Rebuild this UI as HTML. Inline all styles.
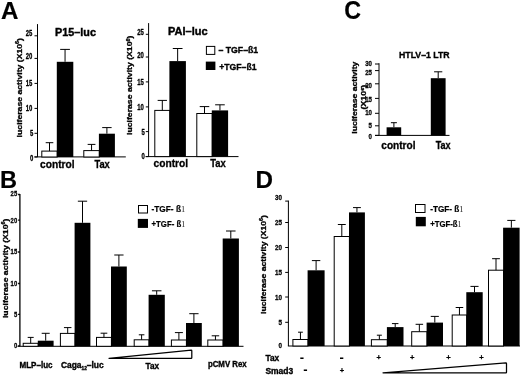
<!DOCTYPE html>
<html lang="en"><head><meta charset="utf-8"><title>Figure</title>
<style>
html,body{margin:0;padding:0;background:#fff;}
body{width:520px;height:375px;overflow:hidden;}
svg{display:block;font-family:'Liberation Sans', sans-serif;fill:#000;}
</style></head><body>
<svg width="520" height="375" viewBox="0 0 520 375">
<rect width="520" height="375" fill="#fff"/>
<g style="filter:blur(0.35px)">
<text x="0.9" y="18.5" font-size="24.2" textLength="17.4" lengthAdjust="spacingAndGlyphs" font-weight="bold" stroke="#000" stroke-width="0.2">A</text>
<path d="M37.5 24.1L37.5 157" stroke="#000" stroke-width="1.0" fill="none"/>
<path d="M34.5 35.8L37.5 35.8" stroke="#000" stroke-width="1.0" fill="none"/>
<text x="32.3" y="36.46" font-size="8.3" text-anchor="end" textLength="6.6" lengthAdjust="spacingAndGlyphs" font-weight="bold" stroke="#000" stroke-width="0.3">25</text>
<path d="M34.5 58.4L37.5 58.4" stroke="#000" stroke-width="1.0" fill="none"/>
<text x="32.3" y="59.26" font-size="8.3" text-anchor="end" textLength="6.6" lengthAdjust="spacingAndGlyphs" font-weight="bold" stroke="#000" stroke-width="0.3">20</text>
<path d="M34.5 83.4L37.5 83.4" stroke="#000" stroke-width="1.0" fill="none"/>
<text x="32.3" y="85.96" font-size="8.3" text-anchor="end" textLength="6.6" lengthAdjust="spacingAndGlyphs" font-weight="bold" stroke="#000" stroke-width="0.3">15</text>
<path d="M34.5 108.4L37.5 108.4" stroke="#000" stroke-width="1.0" fill="none"/>
<text x="32.3" y="111.16" font-size="8.3" text-anchor="end" textLength="6.6" lengthAdjust="spacingAndGlyphs" font-weight="bold" stroke="#000" stroke-width="0.3">10</text>
<path d="M34.5 133.3L37.5 133.3" stroke="#000" stroke-width="1.0" fill="none"/>
<text x="33.3" y="136.26" font-size="8.3" text-anchor="end" textLength="3.3" lengthAdjust="spacingAndGlyphs" font-weight="bold" stroke="#000" stroke-width="0.3">5</text>
<path d="M34.5 157L37.5 157" stroke="#000" stroke-width="1.0" fill="none"/>
<text x="33.3" y="160.66" font-size="8.3" text-anchor="end" textLength="3.3" lengthAdjust="spacingAndGlyphs" font-weight="bold" stroke="#000" stroke-width="0.3">0</text>
<path d="M34.4 156.9L125.8 156.9" stroke="#000" stroke-width="1.0" fill="none"/>
<rect x="41.8" y="151.1" width="15.400000000000006" height="5.900000000000006" fill="#fff" stroke="#000" stroke-width="1.0"/>
<path d="M49.5 151.1L49.5 142.7" stroke="#000" stroke-width="1.0" fill="none"/>
<path d="M45.7 142.7L53.3 142.7" stroke="#000" stroke-width="1.0" fill="none"/>
<rect x="56.800000000000004" y="61.8" width="16.500000000000004" height="95.2" fill="#000"/>
<path d="M65.05000000000001 61.8L65.05000000000001 49.4" stroke="#000" stroke-width="1.0" fill="none"/>
<path d="M60.18300000000001 49.4L69.91700000000002 49.4" stroke="#000" stroke-width="1.0" fill="none"/>
<rect x="83.8" y="150.6" width="15.5" height="6.400000000000006" fill="#fff" stroke="#000" stroke-width="1.0"/>
<path d="M91.55 150.6L91.55 144.4" stroke="#000" stroke-width="1.0" fill="none"/>
<path d="M87.64999999999999 144.4L95.45 144.4" stroke="#000" stroke-width="1.0" fill="none"/>
<rect x="98.89999999999999" y="133.7" width="16.000000000000004" height="23.30000000000001" fill="#000"/>
<path d="M106.9 133.7L106.9 127.6" stroke="#000" stroke-width="1.0" fill="none"/>
<path d="M102.188 127.6L111.61200000000001 127.6" stroke="#000" stroke-width="1.0" fill="none"/>
<text x="57.3" y="168" font-size="10.2" text-anchor="middle" textLength="34.6" lengthAdjust="spacingAndGlyphs" font-weight="bold" stroke="#000" stroke-width="0.3">control</text>
<text x="102.1" y="168" font-size="10.2" text-anchor="middle" textLength="15.4" lengthAdjust="spacingAndGlyphs" font-weight="bold" stroke="#000" stroke-width="0.3">Tax</text>
<text x="75.5" y="35.6" font-size="11.8" text-anchor="middle" textLength="40.8" lengthAdjust="spacingAndGlyphs" font-weight="bold" stroke="#000" stroke-width="0.45">P15–luc</text>
<text transform="translate(22 87.7) rotate(-90)" font-size="7.9" text-anchor="middle" textLength="99.4" lengthAdjust="spacingAndGlyphs" font-weight="bold" stroke="#000" stroke-width="0.3">luciferase activity (X10<tspan font-size="5" dy="-2.8">6</tspan><tspan dy="2.8">)</tspan></text>
<path d="M148.6 23.1L148.6 156.6" stroke="#000" stroke-width="1.0" fill="none"/>
<path d="M145.79999999999998 34.3L148.6 34.3" stroke="#000" stroke-width="1.0" fill="none"/>
<text x="143.8" y="34.86" font-size="8.3" text-anchor="end" textLength="6.6" lengthAdjust="spacingAndGlyphs" font-weight="bold" stroke="#000" stroke-width="0.3">25</text>
<path d="M145.79999999999998 57L148.6 57" stroke="#000" stroke-width="1.0" fill="none"/>
<text x="143.8" y="58.26" font-size="8.3" text-anchor="end" textLength="6.6" lengthAdjust="spacingAndGlyphs" font-weight="bold" stroke="#000" stroke-width="0.3">20</text>
<path d="M145.79999999999998 81.9L148.6 81.9" stroke="#000" stroke-width="1.0" fill="none"/>
<text x="143.8" y="84.66" font-size="8.3" text-anchor="end" textLength="6.6" lengthAdjust="spacingAndGlyphs" font-weight="bold" stroke="#000" stroke-width="0.3">15</text>
<path d="M145.79999999999998 106.9L148.6 106.9" stroke="#000" stroke-width="1.0" fill="none"/>
<text x="143.8" y="109.76" font-size="8.3" text-anchor="end" textLength="6.6" lengthAdjust="spacingAndGlyphs" font-weight="bold" stroke="#000" stroke-width="0.3">10</text>
<path d="M145.79999999999998 131.6L148.6 131.6" stroke="#000" stroke-width="1.0" fill="none"/>
<text x="144.8" y="134.76" font-size="8.3" text-anchor="end" textLength="3.3" lengthAdjust="spacingAndGlyphs" font-weight="bold" stroke="#000" stroke-width="0.3">5</text>
<path d="M145.79999999999998 156.6L148.6 156.6" stroke="#000" stroke-width="1.0" fill="none"/>
<text x="144.8" y="159.06" font-size="8.3" text-anchor="end" textLength="3.3" lengthAdjust="spacingAndGlyphs" font-weight="bold" stroke="#000" stroke-width="0.3">0</text>
<path d="M145.6 156.6L238.5 156.6" stroke="#000" stroke-width="1.0" fill="none"/>
<rect x="154.8" y="110.4" width="15.0" height="46.19999999999999" fill="#fff" stroke="#000" stroke-width="1.0"/>
<path d="M162.3 110.4L162.3 100.4" stroke="#000" stroke-width="1.0" fill="none"/>
<path d="M157.65 100.4L166.95000000000002 100.4" stroke="#000" stroke-width="1.0" fill="none"/>
<rect x="169.4" y="61.1" width="16.49999999999999" height="95.5" fill="#000"/>
<path d="M177.65 61.1L177.65 48.5" stroke="#000" stroke-width="1.0" fill="none"/>
<path d="M172.78300000000002 48.5L182.517 48.5" stroke="#000" stroke-width="1.0" fill="none"/>
<rect x="196.8" y="113.5" width="15.399999999999977" height="43.099999999999994" fill="#fff" stroke="#000" stroke-width="1.0"/>
<path d="M204.5 113.5L204.5 106.6" stroke="#000" stroke-width="1.0" fill="none"/>
<path d="M199.726 106.6L209.274 106.6" stroke="#000" stroke-width="1.0" fill="none"/>
<rect x="211.79999999999998" y="110.4" width="16.3" height="46.19999999999999" fill="#000"/>
<path d="M219.95 110.4L219.95 104.8" stroke="#000" stroke-width="1.0" fill="none"/>
<path d="M215.14499999999998 104.8L224.755 104.8" stroke="#000" stroke-width="1.0" fill="none"/>
<text x="170.8" y="167" font-size="10.3" text-anchor="middle" textLength="34.6" lengthAdjust="spacingAndGlyphs" font-weight="bold" stroke="#000" stroke-width="0.3">control</text>
<text x="218" y="167" font-size="10.3" text-anchor="middle" textLength="15.5" lengthAdjust="spacingAndGlyphs" font-weight="bold" stroke="#000" stroke-width="0.3">Tax</text>
<text x="187.8" y="34.8" font-size="11.8" text-anchor="middle" textLength="39.5" lengthAdjust="spacingAndGlyphs" font-weight="bold" stroke="#000" stroke-width="0.45">PAI–luc</text>
<text transform="translate(132.4 85.3) rotate(-90)" font-size="7.9" text-anchor="middle" textLength="99.4" lengthAdjust="spacingAndGlyphs" font-weight="bold" stroke="#000" stroke-width="0.3">luciferase activity (X10<tspan font-size="5" dy="-2.8">6</tspan><tspan dy="2.8">)</tspan></text>
<rect x="206.4" y="46.4" width="8.4" height="8" fill="#fff" stroke="#000" stroke-width="1"/>
<rect x="205.8" y="61.6" width="9.6" height="8.4" fill="#000"/>
<text x="218.4" y="53.2" font-size="9.8" textLength="39.8" lengthAdjust="spacingAndGlyphs" font-weight="bold" stroke="#000" stroke-width="0.35">– TGF–ß1</text>
<text x="219.2" y="69.9" font-size="9.8" textLength="37.4" lengthAdjust="spacingAndGlyphs" font-weight="bold" stroke="#000" stroke-width="0.35">+TGF–ß1</text>
<text x="344.2" y="19" font-size="26" textLength="16.8" lengthAdjust="spacingAndGlyphs" font-weight="bold" stroke="#000" stroke-width="0.2">C</text>
<path d="M379 63.2L379 135.4" stroke="#000" stroke-width="1.0" fill="none"/>
<path d="M375 64L379 64" stroke="#000" stroke-width="1.0" fill="none"/>
<text x="372.0" y="66.34" font-size="7.8" text-anchor="end" textLength="6.8" lengthAdjust="spacingAndGlyphs" font-weight="bold" stroke="#000" stroke-width="0.3">30</text>
<path d="M375 70.6L379 70.6" stroke="#000" stroke-width="1.0" fill="none"/>
<text x="372.0" y="74.64" font-size="7.8" text-anchor="end" textLength="6.8" lengthAdjust="spacingAndGlyphs" font-weight="bold" stroke="#000" stroke-width="0.3">25</text>
<path d="M375 83.8L379 83.8" stroke="#000" stroke-width="1.0" fill="none"/>
<text x="372.0" y="88.04" font-size="7.8" text-anchor="end" textLength="6.8" lengthAdjust="spacingAndGlyphs" font-weight="bold" stroke="#000" stroke-width="0.3">20</text>
<path d="M375 98.4L379 98.4" stroke="#000" stroke-width="1.0" fill="none"/>
<text x="372.0" y="101.74" font-size="7.8" text-anchor="end" textLength="6.8" lengthAdjust="spacingAndGlyphs" font-weight="bold" stroke="#000" stroke-width="0.3">15</text>
<path d="M375 113.3L379 113.3" stroke="#000" stroke-width="1.0" fill="none"/>
<text x="372.0" y="114.94" font-size="7.8" text-anchor="end" textLength="6.8" lengthAdjust="spacingAndGlyphs" font-weight="bold" stroke="#000" stroke-width="0.3">10</text>
<path d="M375 125.8L379 125.8" stroke="#000" stroke-width="1.0" fill="none"/>
<text x="372.0" y="127.64" font-size="7.8" text-anchor="end" textLength="3.4" lengthAdjust="spacingAndGlyphs" font-weight="bold" stroke="#000" stroke-width="0.3">5</text>
<path d="M375 135.4L379 135.4" stroke="#000" stroke-width="1.0" fill="none"/>
<text x="372.0" y="138.54" font-size="7.8" text-anchor="end" textLength="3.4" lengthAdjust="spacingAndGlyphs" font-weight="bold" stroke="#000" stroke-width="0.3">0</text>
<path d="M375 135.4L449.5 135.4" stroke="#000" stroke-width="1.0" fill="none"/>
<rect x="386.6" y="127.3" width="14.600000000000012" height="8.100000000000009" fill="#000"/>
<path d="M393.9 127.3L393.9 122.7" stroke="#000" stroke-width="1.0" fill="none"/>
<path d="M390.9 122.7L396.9 122.7" stroke="#000" stroke-width="1.0" fill="none"/>
<rect x="430.8" y="78.2" width="14.8" height="57.2" fill="#000"/>
<path d="M438.2 78.2L438.2 71.8" stroke="#000" stroke-width="1.0" fill="none"/>
<path d="M434.09999999999997 71.8L442.3 71.8" stroke="#000" stroke-width="1.0" fill="none"/>
<text x="398.4" y="148.5" font-size="10" text-anchor="middle" textLength="34.2" lengthAdjust="spacingAndGlyphs" font-weight="bold" stroke="#000" stroke-width="0.3">control</text>
<text x="443.2" y="148.5" font-size="10" text-anchor="middle" textLength="15" lengthAdjust="spacingAndGlyphs" font-weight="bold" stroke="#000" stroke-width="0.3">Tax</text>
<text x="424.3" y="57.5" font-size="9.8" text-anchor="middle" textLength="50.6" lengthAdjust="spacingAndGlyphs" font-weight="bold" stroke="#000" stroke-width="0.35">HTLV–1 LTR</text>
<text transform="translate(356.6 97.7) rotate(-90)" font-size="7.9" text-anchor="middle" textLength="72" lengthAdjust="spacingAndGlyphs" font-weight="bold" stroke="#000" stroke-width="0.3">luciferase activity</text>
<text transform="translate(366.4 97.2) rotate(-90)" font-size="7.1" text-anchor="middle" textLength="24.8" lengthAdjust="spacingAndGlyphs" font-weight="bold" stroke="#000" stroke-width="0.3">(X10<tspan font-size="4.4" dy="-2.4">6</tspan><tspan dy="2.4">)</tspan></text>
<text x="0" y="187.6" font-size="24.2" textLength="17" lengthAdjust="spacingAndGlyphs" font-weight="bold" stroke="#000" stroke-width="0.2">B</text>
<path d="M19.9 194L19.9 346.3" stroke="#000" stroke-width="1.3" fill="none"/>
<path d="M18.099999999999998 194.5L19.9 194.5" stroke="#000" stroke-width="1.3" fill="none"/>
<text x="17.2" y="196.34" font-size="7.8" text-anchor="end" textLength="6.6" lengthAdjust="spacingAndGlyphs" font-weight="bold" stroke="#000" stroke-width="0.3">25</text>
<path d="M18.099999999999998 220.2L19.9 220.2" stroke="#000" stroke-width="1.3" fill="none"/>
<text x="17.2" y="222.54" font-size="7.8" text-anchor="end" textLength="6.6" lengthAdjust="spacingAndGlyphs" font-weight="bold" stroke="#000" stroke-width="0.3">20</text>
<path d="M18.099999999999998 252L19.9 252" stroke="#000" stroke-width="1.3" fill="none"/>
<text x="17.2" y="254.34" font-size="7.8" text-anchor="end" textLength="6.6" lengthAdjust="spacingAndGlyphs" font-weight="bold" stroke="#000" stroke-width="0.3">15</text>
<path d="M18.099999999999998 283.5L19.9 283.5" stroke="#000" stroke-width="1.3" fill="none"/>
<text x="17.2" y="285.84" font-size="7.8" text-anchor="end" textLength="6.6" lengthAdjust="spacingAndGlyphs" font-weight="bold" stroke="#000" stroke-width="0.3">10</text>
<path d="M18.099999999999998 314.4L19.9 314.4" stroke="#000" stroke-width="1.3" fill="none"/>
<text x="17.2" y="316.74" font-size="7.8" text-anchor="end" textLength="3.3" lengthAdjust="spacingAndGlyphs" font-weight="bold" stroke="#000" stroke-width="0.3">5</text>
<path d="M18.099999999999998 345.8L19.9 345.8" stroke="#000" stroke-width="1.3" fill="none"/>
<text x="17.2" y="348.14" font-size="7.8" text-anchor="end" textLength="3.3" lengthAdjust="spacingAndGlyphs" font-weight="bold" stroke="#000" stroke-width="0.3">0</text>
<path d="M17.5 346.3L243.5 346.3" stroke="#000" stroke-width="1.0" fill="none"/>
<rect x="23.2" y="343.3" width="15.000000000000004" height="3.0" fill="#fff" stroke="#000" stroke-width="1.0"/>
<path d="M30.700000000000003 343.3L30.700000000000003 337.4" stroke="#000" stroke-width="1.0" fill="none"/>
<path d="M27.700000000000003 337.4L33.7 337.4" stroke="#000" stroke-width="1.0" fill="none"/>
<rect x="37.800000000000004" y="340.7" width="15.8" height="5.600000000000023" fill="#000"/>
<path d="M45.7 340.7L45.7 333.3" stroke="#000" stroke-width="1.0" fill="none"/>
<path d="M41.7 333.3L49.7 333.3" stroke="#000" stroke-width="1.0" fill="none"/>
<rect x="60.4" y="333.4" width="14.600000000000001" height="12.900000000000034" fill="#fff" stroke="#000" stroke-width="1.0"/>
<path d="M67.7 333.4L67.7 327.6" stroke="#000" stroke-width="1.0" fill="none"/>
<path d="M63.95 327.6L71.45 327.6" stroke="#000" stroke-width="1.0" fill="none"/>
<rect x="74.6" y="222.8" width="15.8" height="123.5" fill="#000"/>
<path d="M82.5 222.8L82.5 201.2" stroke="#000" stroke-width="1.0" fill="none"/>
<path d="M77.85 201.2L87.15 201.2" stroke="#000" stroke-width="1.0" fill="none"/>
<rect x="96.5" y="337.4" width="14.900000000000006" height="8.900000000000034" fill="#fff" stroke="#000" stroke-width="1.0"/>
<path d="M103.95 337.4L103.95 333.2" stroke="#000" stroke-width="1.0" fill="none"/>
<path d="M100.60000000000001 333.2L107.3 333.2" stroke="#000" stroke-width="1.0" fill="none"/>
<rect x="111.0" y="266.5" width="15.8" height="79.80000000000001" fill="#000"/>
<path d="M118.9 266.5L118.9 255" stroke="#000" stroke-width="1.0" fill="none"/>
<path d="M114.25 255L123.55000000000001 255" stroke="#000" stroke-width="1.0" fill="none"/>
<rect x="134.2" y="339.8" width="14.800000000000011" height="6.5" fill="#fff" stroke="#000" stroke-width="1.0"/>
<path d="M141.6 339.8L141.6 334.8" stroke="#000" stroke-width="1.0" fill="none"/>
<path d="M138.79999999999998 334.8L144.4 334.8" stroke="#000" stroke-width="1.0" fill="none"/>
<rect x="148.6" y="294.8" width="16.200000000000006" height="51.5" fill="#000"/>
<path d="M156.7 294.8L156.7 290.8" stroke="#000" stroke-width="1.0" fill="none"/>
<path d="M151.926 290.8L161.474 290.8" stroke="#000" stroke-width="1.0" fill="none"/>
<rect x="171.4" y="340" width="15.0" height="6.300000000000011" fill="#fff" stroke="#000" stroke-width="1.0"/>
<path d="M178.9 340L178.9 332.6" stroke="#000" stroke-width="1.0" fill="none"/>
<path d="M174.9 332.6L182.9 332.6" stroke="#000" stroke-width="1.0" fill="none"/>
<rect x="186.0" y="323" width="15.8" height="23.30000000000001" fill="#000"/>
<path d="M193.9 323L193.9 313.7" stroke="#000" stroke-width="1.0" fill="none"/>
<path d="M189.25 313.7L198.55 313.7" stroke="#000" stroke-width="1.0" fill="none"/>
<rect x="207.8" y="340" width="15.299999999999983" height="6.300000000000011" fill="#fff" stroke="#000" stroke-width="1.0"/>
<path d="M215.45 340L215.45 335.8" stroke="#000" stroke-width="1.0" fill="none"/>
<path d="M211.7 335.8L219.2 335.8" stroke="#000" stroke-width="1.0" fill="none"/>
<rect x="222.7" y="238.5" width="16.200000000000006" height="107.80000000000001" fill="#000"/>
<path d="M230.8 238.5L230.8 231" stroke="#000" stroke-width="1.0" fill="none"/>
<path d="M226.026 231L235.574 231" stroke="#000" stroke-width="1.0" fill="none"/>
<path d="M109 358.3L191.2 350.1Q191.8 350.1 191.8 350.7L191.8 357.7Q191.8 358.3 191.2 358.3Z" fill="#fff" stroke="#000" stroke-width="1.25" stroke-linejoin="round"/>
<text x="36" y="367.8" font-size="8.5" text-anchor="middle" textLength="33" lengthAdjust="spacingAndGlyphs" font-weight="bold" stroke="#000" stroke-width="0.35">MLP–luc</text>
<text x="82.3" y="367.8" font-size="8.5" text-anchor="middle" textLength="42.8" lengthAdjust="spacingAndGlyphs" font-weight="bold" stroke="#000" stroke-width="0.35">Caga<tspan font-size="4.8" dy="2.2">12</tspan><tspan dy="-2.2">–luc</tspan></text>
<text x="152.3" y="368.8" font-size="8.5" text-anchor="middle" textLength="13.6" lengthAdjust="spacingAndGlyphs" font-weight="bold" stroke="#000" stroke-width="0.35">Tax</text>
<text x="227.3" y="367" font-size="8.5" text-anchor="middle" textLength="38.8" lengthAdjust="spacingAndGlyphs" font-weight="bold" stroke="#000" stroke-width="0.35">pCMV Rex</text>
<text transform="translate(8.1 268.3) rotate(-90)" font-size="7.9" text-anchor="middle" textLength="99.5" lengthAdjust="spacingAndGlyphs" font-weight="bold" stroke="#000" stroke-width="0.3">luciferase activity (X10<tspan font-size="5" dy="-2.8">6</tspan><tspan dy="2.8">)</tspan></text>
<rect x="138.5" y="205.5" width="9" height="7.5" fill="#fff" stroke="#000" stroke-width="1"/>
<rect x="137.8" y="218.9" width="10.2" height="9" fill="#000"/>
<text x="151.5" y="212.2" font-size="8.2" textLength="33.7" lengthAdjust="spacingAndGlyphs" font-weight="bold" stroke="#000" stroke-width="0.2">-TGF- ß<tspan font-weight="normal" font-size="8.4" fill="#222" stroke="none" font-family="'Liberation Serif',serif">1</tspan></text>
<text x="151.5" y="226.9" font-size="8.2" textLength="33.7" lengthAdjust="spacingAndGlyphs" font-weight="bold" stroke="#000" stroke-width="0.2">+TGF- ß<tspan font-weight="normal" font-size="8.4" fill="#222" stroke="none" font-family="'Liberation Serif',serif">1</tspan></text>
<text x="255.6" y="187.6" font-size="24.8" textLength="17.5" lengthAdjust="spacingAndGlyphs" font-weight="bold" stroke="#000" stroke-width="0.2">D</text>
<path d="M288.4 200.6L288.4 346" stroke="#000" stroke-width="1.0" fill="none"/>
<path d="M285.2 201.1L288.4 201.1" stroke="#000" stroke-width="1.0" fill="none"/>
<text x="281.9" y="200.41" font-size="7.8" text-anchor="end" textLength="7.0" lengthAdjust="spacingAndGlyphs" font-weight="bold" stroke="#000" stroke-width="0.3">30</text>
<path d="M285.2 222.5L288.4 222.5" stroke="#000" stroke-width="1.0" fill="none"/>
<text x="281.9" y="225.31" font-size="7.8" text-anchor="end" textLength="7.0" lengthAdjust="spacingAndGlyphs" font-weight="bold" stroke="#000" stroke-width="0.3">25</text>
<path d="M285.2 247.5L288.4 247.5" stroke="#000" stroke-width="1.0" fill="none"/>
<text x="281.9" y="250.31" font-size="7.8" text-anchor="end" textLength="7.0" lengthAdjust="spacingAndGlyphs" font-weight="bold" stroke="#000" stroke-width="0.3">20</text>
<path d="M285.2 272.4L288.4 272.4" stroke="#000" stroke-width="1.0" fill="none"/>
<text x="281.9" y="275.21" font-size="7.8" text-anchor="end" textLength="7.0" lengthAdjust="spacingAndGlyphs" font-weight="bold" stroke="#000" stroke-width="0.3">15</text>
<path d="M285.2 297L288.4 297" stroke="#000" stroke-width="1.0" fill="none"/>
<text x="281.9" y="299.81" font-size="7.8" text-anchor="end" textLength="7.0" lengthAdjust="spacingAndGlyphs" font-weight="bold" stroke="#000" stroke-width="0.3">10</text>
<path d="M285.2 322.3L288.4 322.3" stroke="#000" stroke-width="1.0" fill="none"/>
<text x="281.9" y="325.11" font-size="7.8" text-anchor="end" textLength="3.5" lengthAdjust="spacingAndGlyphs" font-weight="bold" stroke="#000" stroke-width="0.3">5</text>
<text x="281.9" y="347.91" font-size="7.8" text-anchor="end" textLength="3.5" lengthAdjust="spacingAndGlyphs" font-weight="bold" stroke="#000" stroke-width="0.3">0</text>
<path d="M287.9 346L520 346" stroke="#000" stroke-width="1.0" fill="none"/>
<rect x="292.9" y="339.5" width="15.100000000000023" height="6.5" fill="#fff" stroke="#000" stroke-width="1.0"/>
<path d="M300.45 339.5L300.45 332.2" stroke="#000" stroke-width="1.0" fill="none"/>
<path d="M298.05 332.2L302.84999999999997 332.2" stroke="#000" stroke-width="1.0" fill="none"/>
<rect x="307.6" y="270.3" width="16.99999999999999" height="75.69999999999999" fill="#000"/>
<path d="M316.1 270.3L316.1 260.6" stroke="#000" stroke-width="1.0" fill="none"/>
<path d="M311.88800000000003 260.6L320.312 260.6" stroke="#000" stroke-width="1.0" fill="none"/>
<rect x="334.2" y="236.5" width="15.199999999999989" height="109.5" fill="#fff" stroke="#000" stroke-width="1.0"/>
<path d="M341.79999999999995 236.5L341.79999999999995 224.5" stroke="#000" stroke-width="1.0" fill="none"/>
<path d="M337.84799999999996 224.5L345.75199999999995 224.5" stroke="#000" stroke-width="1.0" fill="none"/>
<rect x="349.0" y="212.4" width="15.900000000000023" height="133.6" fill="#000"/>
<path d="M356.95 212.4L356.95 207.6" stroke="#000" stroke-width="1.0" fill="none"/>
<path d="M353.024 207.6L360.876 207.6" stroke="#000" stroke-width="1.0" fill="none"/>
<rect x="371.4" y="339.7" width="15.900000000000034" height="6.300000000000011" fill="#fff" stroke="#000" stroke-width="1.0"/>
<path d="M379.35 339.7L379.35 335.2" stroke="#000" stroke-width="1.0" fill="none"/>
<path d="M376.85 335.2L381.85 335.2" stroke="#000" stroke-width="1.0" fill="none"/>
<rect x="386.90000000000003" y="327.1" width="16.600000000000012" height="18.899999999999977" fill="#000"/>
<path d="M395.20000000000005 327.1L395.20000000000005 323.6" stroke="#000" stroke-width="1.0" fill="none"/>
<path d="M391.95000000000005 323.6L398.45000000000005 323.6" stroke="#000" stroke-width="1.0" fill="none"/>
<rect x="411.7" y="331.7" width="15.300000000000011" height="14.300000000000011" fill="#fff" stroke="#000" stroke-width="1.0"/>
<path d="M419.35 331.7L419.35 324.3" stroke="#000" stroke-width="1.0" fill="none"/>
<path d="M415.6 324.3L423.1 324.3" stroke="#000" stroke-width="1.0" fill="none"/>
<rect x="426.6" y="322.6" width="16.400000000000023" height="23.399999999999977" fill="#000"/>
<path d="M434.8 322.6L434.8 316.4" stroke="#000" stroke-width="1.0" fill="none"/>
<path d="M430.744 316.4L438.856 316.4" stroke="#000" stroke-width="1.0" fill="none"/>
<rect x="452.2" y="315" width="14.5" height="31" fill="#fff" stroke="#000" stroke-width="1.0"/>
<path d="M459.45 315L459.45 307.5" stroke="#000" stroke-width="1.0" fill="none"/>
<path d="M455.68 307.5L463.21999999999997 307.5" stroke="#000" stroke-width="1.0" fill="none"/>
<rect x="466.3" y="292.2" width="16.400000000000023" height="53.80000000000001" fill="#000"/>
<path d="M474.5 292.2L474.5 286.4" stroke="#000" stroke-width="1.0" fill="none"/>
<path d="M470.444 286.4L478.556 286.4" stroke="#000" stroke-width="1.0" fill="none"/>
<rect x="488.5" y="270.2" width="15.0" height="75.80000000000001" fill="#fff" stroke="#000" stroke-width="1.0"/>
<path d="M496.0 270.2L496.0 258.7" stroke="#000" stroke-width="1.0" fill="none"/>
<path d="M492.1 258.7L499.9 258.7" stroke="#000" stroke-width="1.0" fill="none"/>
<rect x="503.1" y="227.7" width="16.500000000000046" height="118.30000000000001" fill="#000"/>
<path d="M511.35 227.7L511.35 220.4" stroke="#000" stroke-width="1.0" fill="none"/>
<path d="M507.26800000000003 220.4L515.432 220.4" stroke="#000" stroke-width="1.0" fill="none"/>
<text x="265.4" y="360.6" font-size="8.5" textLength="13.8" lengthAdjust="spacingAndGlyphs" font-weight="bold" stroke="#000" stroke-width="0.35">Tax</text>
<text x="265.4" y="374" font-size="8.5" textLength="27.8" lengthAdjust="spacingAndGlyphs" font-weight="bold" stroke="#000" stroke-width="0.35">Smad3</text>
<text x="302" y="361.6" font-size="13" text-anchor="middle" font-weight="bold">-</text>
<text x="341.6" y="361.6" font-size="13" text-anchor="middle" font-weight="bold">-</text>
<text x="378.7" y="360.4" font-size="7.6" text-anchor="middle" font-weight="bold" stroke="#000" stroke-width="0.25">+</text>
<text x="412.3" y="360.4" font-size="7.6" text-anchor="middle" font-weight="bold" stroke="#000" stroke-width="0.25">+</text>
<text x="448.5" y="360.4" font-size="7.6" text-anchor="middle" font-weight="bold" stroke="#000" stroke-width="0.25">+</text>
<text x="481.5" y="360.4" font-size="7.6" text-anchor="middle" font-weight="bold" stroke="#000" stroke-width="0.25">+</text>
<text x="305.3" y="374.4" font-size="13" text-anchor="middle" font-weight="bold">-</text>
<text x="342" y="373.4" font-size="7.6" text-anchor="middle" font-weight="bold" stroke="#000" stroke-width="0.25">+</text>
<path d="M383 372.8L505.9 362.8Q506.5 362.8 506.5 363.4L506.5 372.2Q506.5 372.8 505.9 372.8Z" fill="#fff" stroke="#000" stroke-width="1.25" stroke-linejoin="round"/>
<text transform="translate(266 264.5) rotate(-90)" font-size="7.9" text-anchor="middle" textLength="99" lengthAdjust="spacingAndGlyphs" font-weight="bold" stroke="#000" stroke-width="0.3">luciferase activity (X10<tspan font-size="5" dy="-2.8">6</tspan><tspan dy="2.8">)</tspan></text>
<rect x="415.5" y="204.5" width="9.5" height="8" fill="#fff" stroke="#000" stroke-width="1"/>
<rect x="415.8" y="216.9" width="10" height="9.4" fill="#000"/>
<text x="430.2" y="212" font-size="8.2" textLength="33.3" lengthAdjust="spacingAndGlyphs" font-weight="bold" stroke="#000" stroke-width="0.2">-TGF- ß<tspan font-weight="normal" font-size="8.4" fill="#222" stroke="none" font-family="'Liberation Serif',serif">1</tspan></text>
<text x="430.2" y="227" font-size="8.2" textLength="31.4" lengthAdjust="spacingAndGlyphs" font-weight="bold" stroke="#000" stroke-width="0.2">+TGF-ß<tspan font-weight="normal" font-size="8.4" fill="#222" stroke="none" font-family="'Liberation Serif',serif">1</tspan></text>
</g>
</svg>
</body></html>
